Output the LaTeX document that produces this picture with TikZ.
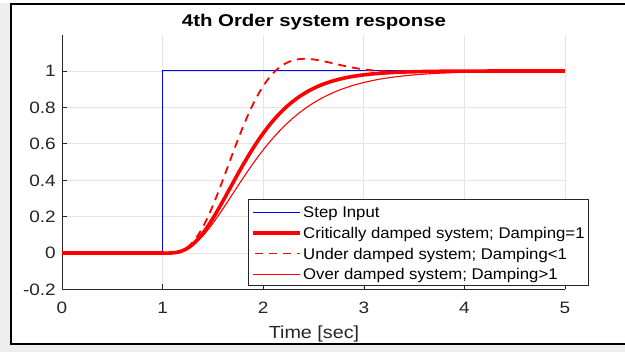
\documentclass[tikz,border=0pt]{standalone}
\usepackage{fontspec}
\setmainfont{Liberation Sans}
\definecolor{axgray}{RGB}{38,38,38}
\definecolor{bggray}{RGB}{238,238,238}
\definecolor{gridgray}{RGB}{228,228,228}
\newcommand\hstretch[2]{\scalebox{#1}[1]{#2}}
\begin{document}
\begin{tikzpicture}[x=1pt,y=-1pt,
  declare function={
    fcrit(\t)=1-(1+4.5*\t+10.125*\t*\t+15.1875*\t*\t*\t)*exp(-1.5*\t)*exp(-1.5*\t)*exp(-1.5*\t);
    funder(\t)=1+2*exp(-1.5575*\t)*exp(-1.5575*\t)*((-0.5+1.52697*\t)*cos(deg(3.17792*\t))-(0.97059+1.55781*\t)*sin(deg(3.17792*\t)));
    fover(\t)=1+(0.05728-5.99264*\t)*exp(-1.309745*\t)*exp(-1.309745*\t)+(-1.05728-2.03061*\t)*exp(-1.932628*\t)*exp(-1.932628*\t)*exp(-1.932628*\t)*exp(-1.932628*\t);
  },
  gridln/.style={draw=gridgray, line width=0.7pt},
  axln/.style={draw=axgray, line width=0.6pt},
  ticklab/.style={font=\fontsize{16.5}{18}\selectfont, text=axgray, inner sep=0pt},
  legtext/.style={font=\fontsize{15.5}{17}\selectfont, text=black, inner sep=0pt, anchor=base west},
  stepln/.style={draw=blue, line width=1pt},
  critln/.style={draw=red, line width=3.6pt, line join=round},
  udln/.style={draw=red, line width=1.8pt, dash pattern=on 8pt off 6pt, line join=round},
  odln/.style={draw=red, line width=1.1pt, line join=round},
]
\useasboundingbox (0,0) rectangle (625,352);
\fill[bggray] (0,0) rectangle (625,352);
\fill[white] (0,0) rectangle (625,3);
\filldraw[fill=white, draw=black, line width=2pt] (11,4) rectangle (640,344);

% grid
\foreach \k in {1,...,5}
  \draw[gridln] ({62+100.6*\k},34.6) -- ({62+100.6*\k},289.4);
\foreach \v in {0,0.2,0.4,0.6,0.8,1}
  \draw[gridln] (62,{253-182*\v}) -- (566,{253-182*\v});

% axes and ticks
\draw[axln] (62,34.6) -- (62,289.4) -- (565,289.4);
\foreach \v in {-0.2,0,0.2,0.4,0.6,0.8,1}
  \draw[axln] (62,{253-182*\v}) -- (67,{253-182*\v});
\foreach \k in {1,...,5}
  \draw[axln] ({62+100.6*\k},289.4) -- ({62+100.6*\k},284.4);

% tick labels
\foreach \k in {0,...,5}
  \node[ticklab, anchor=base] (xt\k) at ({62+100.6*\k},313.3) {\hstretch{1.15}{\k}};
\foreach \v/\n [count=\i] in {-0.2/-0.2,0/0,0.2/0.2,0.4/0.4,0.6/0.6,0.8/0.8,1/1}
  \node[ticklab, anchor=base east] (yt\i) at (56,{253-182*\v+5.85}) {\hstretch{1.15}{\n}};

% title and axis label
\node[font=\fontsize{17}{19}\selectfont\bfseries, inner sep=0pt, anchor=base] (title) at (314,26.7) {\hstretch{1.2}{4th Order system response}};
\node[font=\fontsize{17.5}{19}\selectfont, text=axgray, inner sep=0pt, anchor=base] (xlabel) at (314,338.3) {\hstretch{1.13}{Time [sec]}};

% curves
\begin{scope}[shift={(62,253)}, x=100.6pt, y=182pt]
  \draw[stepln] (0,0) -- (1,0) -- (1,1) -- (5,1);
  \draw[critln] (0,0) -- plot[domain=0:4, samples=161] ({\x+1},{fcrit(\x)});
  \draw[udln] (0,0) -- plot[domain=0:4, samples=201] ({\x+1},{funder(\x)});
  \draw[odln] (0,0) -- plot[domain=0:4, samples=161] ({\x+1},{fover(\x)});
\end{scope}

% legend
\node[draw=axgray, fill=white, line width=0.6pt, minimum width=340pt, minimum height=86pt, inner sep=0pt] (legend) at (418,242) {};
\draw[stepln] (253,212.3) -- (300,212.3);
\node[legtext] (l1) at (303,217.7) {\hstretch{1.08}{Step Input}};
\draw[critln] (253,233.3) -- (300,233.3);
\node[legtext] (l2) at (303,238.6) {\hstretch{1.08}{Critically damped system; Damping=1}};
\draw[udln, dash phase=-2pt] (253,253.6) -- (300,253.6);
\node[legtext] (l3) at (303,259.1) {\hstretch{1.08}{Under damped system; Damping<1}};
\draw[odln] (253,274.3) -- (300,274.3);
\node[legtext] (l4) at (303,279.8) {\hstretch{1.08}{Over damped system; Damping>1}};
\end{tikzpicture}
\end{document}
